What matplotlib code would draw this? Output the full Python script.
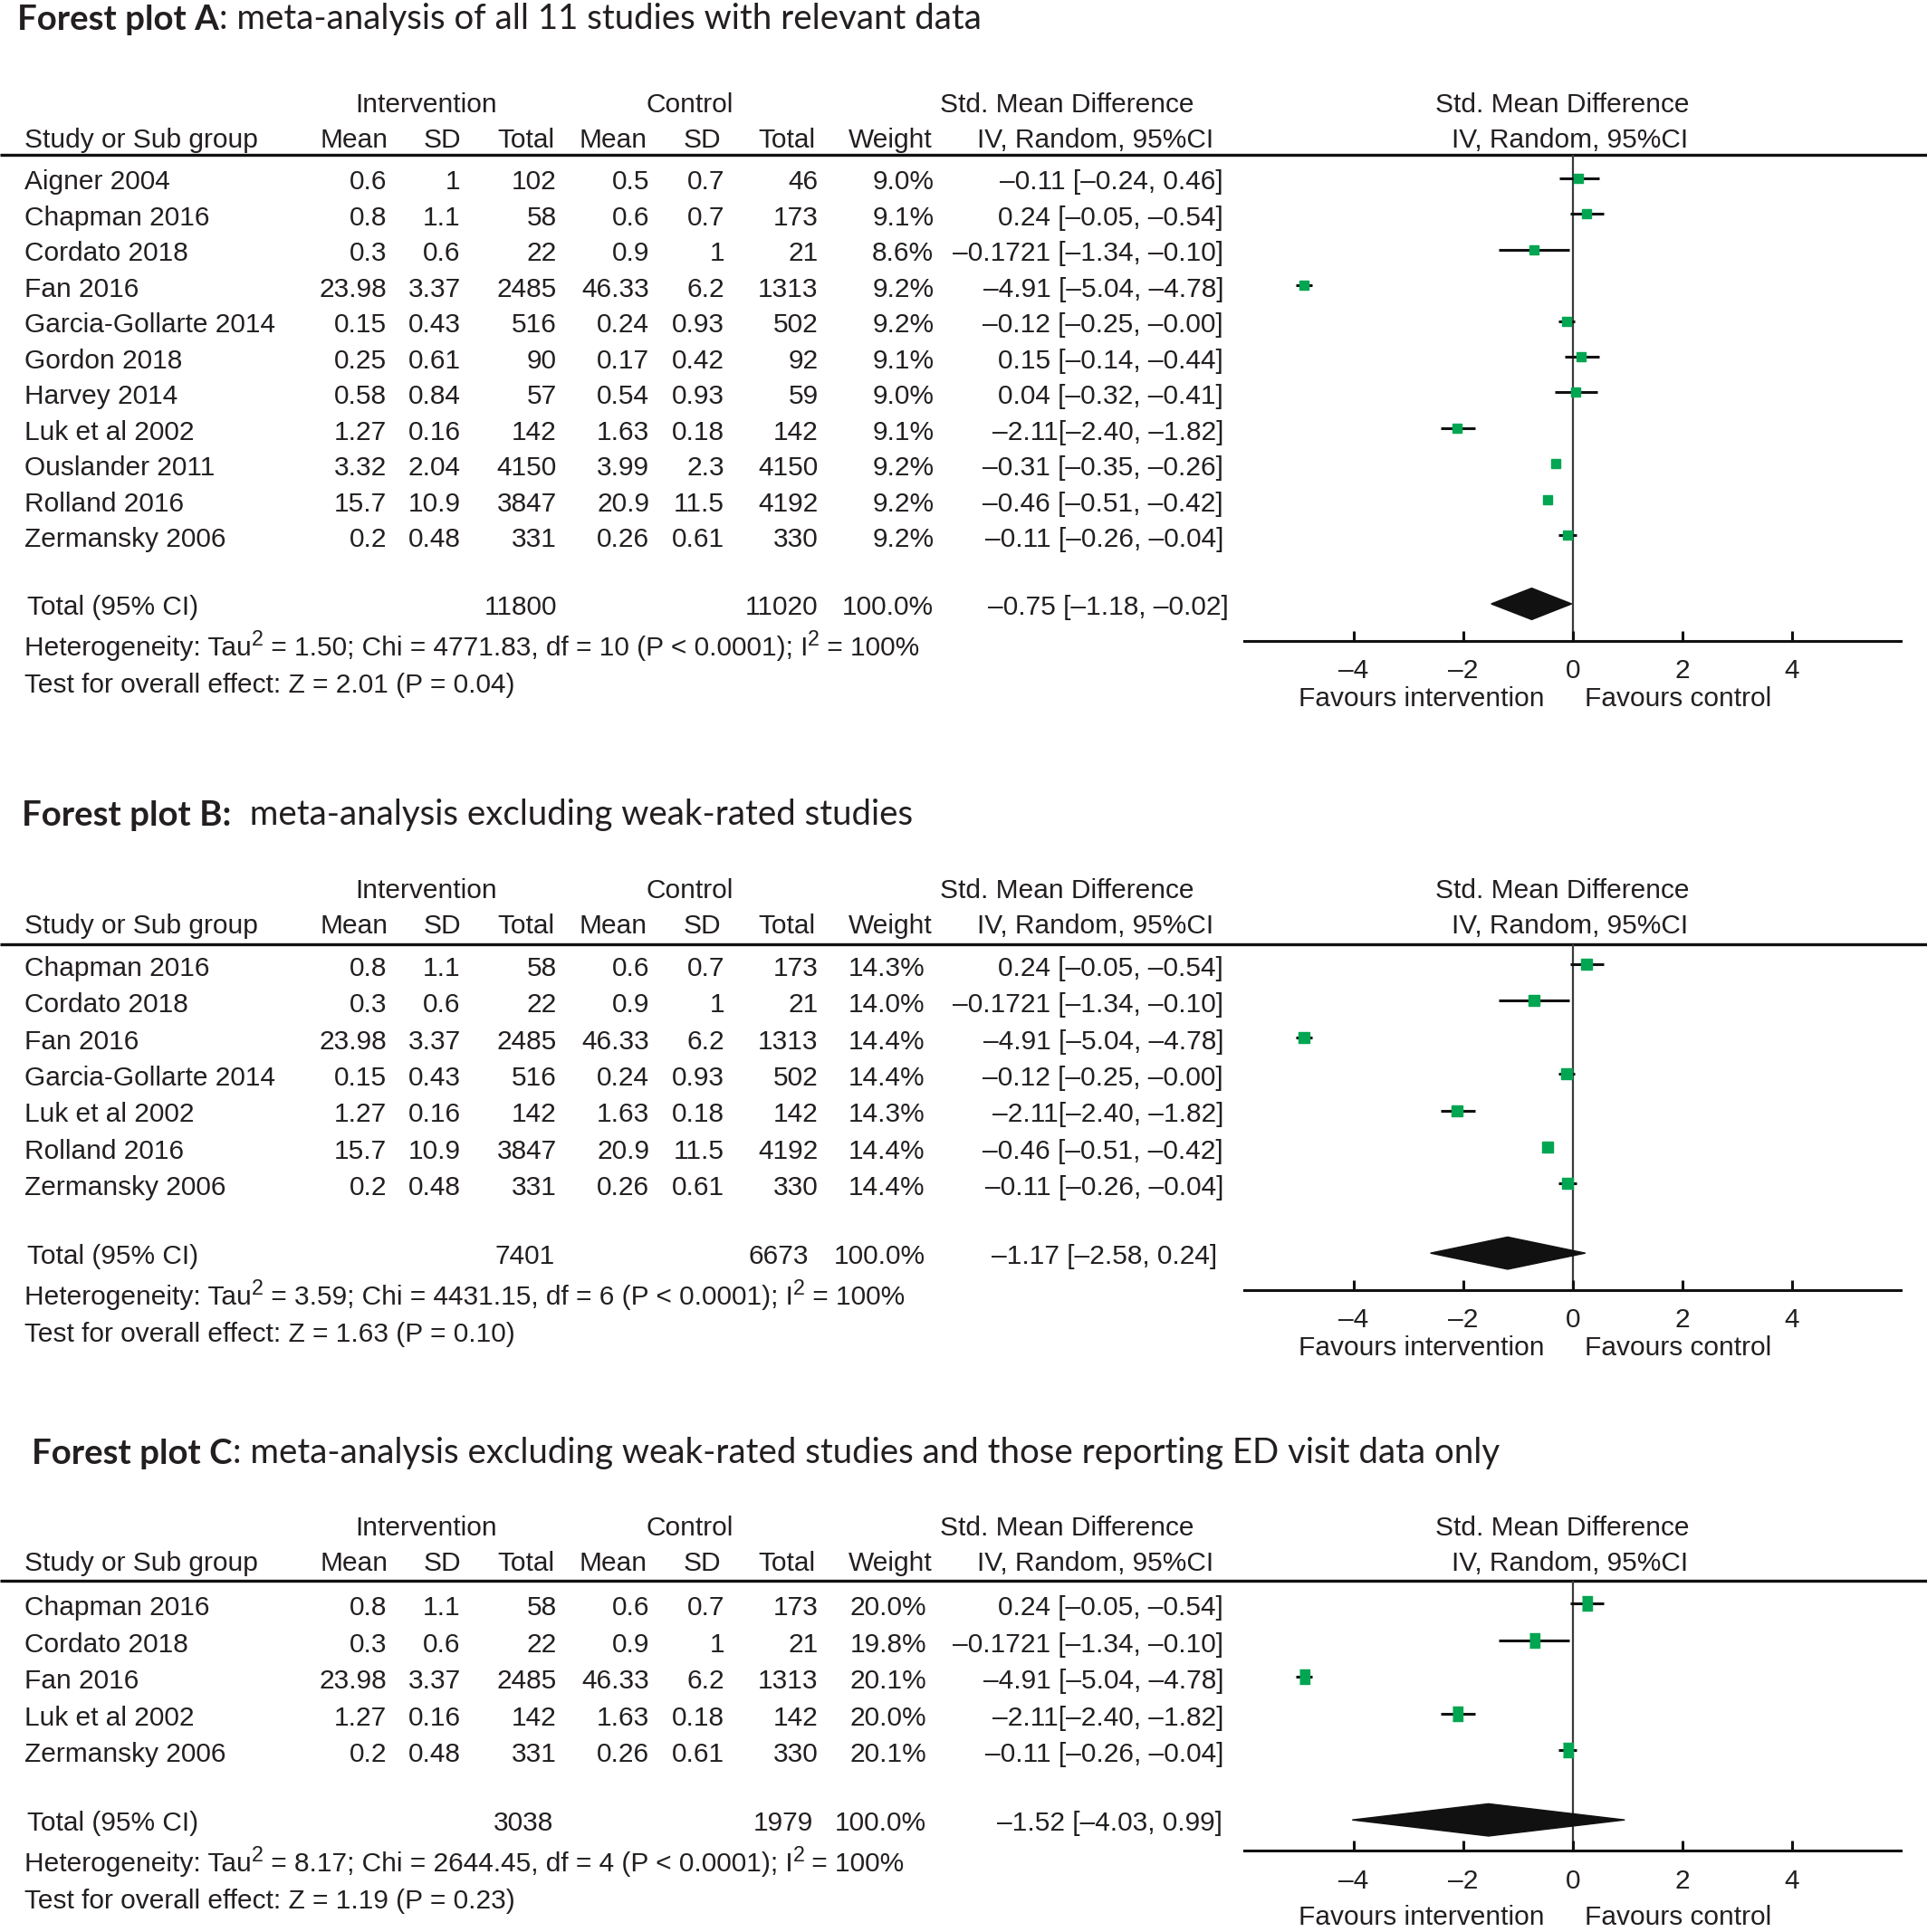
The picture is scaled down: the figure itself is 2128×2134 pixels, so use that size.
import matplotlib
matplotlib.use('Agg')
import matplotlib.pyplot as plt
from matplotlib.patches import Polygon

plt.rcParams['font.family'] = ['Liberation Sans', 'DejaVu Sans']

# ---------------- data (plot A holds all 11 studies) ----------------
studies = ['Aigner 2004', 'Chapman 2016', 'Cordato 2018', 'Fan 2016', 'Garcia-Gollarte 2014',
           'Gordon 2018', 'Harvey 2014', 'Luk et al 2002', 'Ouslander 2011', 'Rolland 2016',
           'Zermansky 2006']
int_mean = [0.6, 0.8, 0.3, 23.98, 0.15, 0.25, 0.58, 1.27, 3.32, 15.7, 0.2]
int_sd = [1, 1.1, 0.6, 3.37, 0.43, 0.61, 0.84, 0.16, 2.04, 10.9, 0.48]
int_n = [102, 58, 22, 2485, 516, 90, 57, 142, 4150, 3847, 331]
ctl_mean = [0.5, 0.6, 0.9, 46.33, 0.24, 0.17, 0.54, 1.63, 3.99, 20.9, 0.26]
ctl_sd = [0.7, 0.7, 1, 6.2, 0.93, 0.42, 0.93, 0.18, 2.3, 11.5, 0.61]
ctl_n = [46, 173, 21, 1313, 502, 92, 59, 142, 4150, 4192, 330]
smd_text = ['\u20130.11 [\u20130.24, 0.46]', '0.24 [\u20130.05, \u20130.54]',
            '\u20130.1721 [\u20131.34, \u20130.10]', '\u20134.91 [\u20135.04, \u20134.78]',
            '\u20130.12 [\u20130.25, \u20130.00]', '0.15 [\u20130.14, \u20130.44]',
            '0.04 [\u20130.32, \u20130.41]', '\u20132.11[\u20132.40, \u20131.82]',
            '\u20130.31 [\u20130.35, \u20130.26]', '\u20130.46 [\u20130.51, \u20130.42]',
            '\u20130.11 [\u20130.26, \u20130.04]']
# positions of the squares and whiskers as drawn in the forest plots
smd_est = [0.11, 0.25, -0.71, -4.91, -0.11, 0.16, 0.05, -2.11, -0.31, -0.46, -0.10]
smd_lo = [-0.25, -0.05, -1.35, -5.06, -0.26, -0.14, -0.32, -2.41, -0.35, -0.51, -0.27]
smd_hi = [0.49, 0.57, -0.07, -4.76, 0.03, 0.48, 0.45, -1.79, -0.26, -0.42, 0.07]

# which studies each plot keeps, and their weights
idx_a = list(range(11))
idx_b = [1, 2, 3, 4, 7, 9, 10]
idx_c = [1, 2, 3, 7, 10]
weight_a = [9.0, 9.1, 8.6, 9.2, 9.2, 9.1, 9.0, 9.1, 9.2, 9.2, 9.2]
weight_b = [14.3, 14.0, 14.4, 14.4, 14.3, 14.4, 14.4]
weight_c = [20.0, 19.8, 20.1, 20.0, 20.1]

# pooled results
total_int = [11800, 7401, 3038]
total_ctl = [11020, 6673, 1979]
total_text = ['\u20130.75 [\u20131.18, \u20130.02]', '\u20131.17 [\u20132.58, 0.24]',
              '\u20131.52 [\u20134.03, 0.99]']
pooled_est = [-0.75, -1.19, -1.54]
pooled_lo = [-1.49, -2.60, -4.03]
pooled_hi = [-0.02, 0.23, 0.95]
tau2 = ['1.50', '3.59', '8.17']
chi = ['4771.83', '4431.15', '2644.45']
dfs = [10, 6, 4]
z_val = ['2.01', '1.63', '1.19']
p_val = ['0.04', '0.10', '0.23']

titles_bold = ['Forest plot A', 'Forest plot B:', 'Forest plot C']
titles_rest = [': meta-analysis of all 11 studies with relevant data',
               '  meta-analysis excluding weak-rated studies',
               ': meta-analysis excluding weak-rated studies and those reporting ED visit data only']
xticks = [-4, -2, 0, 2, 4]
xtick_labels = ['\u20134', '\u20132', '0', '2', '4']

# ---------------- layout (reference pixel grid 1564 x 1568) ----------------
W, H = 1564.0, 1568.0
FS = 21.5
TXT = '#231f20'
GREEN = '#00a651'

layouts = [
    dict(tx=14, ty=16, h1=85, h2=114, line=126, first=148, step=29.0, total=493,
         het=526, test=556, axis=520, fav=567, wx=758, cix=997, nx=(452, 664),
         ms=7, mk='s'),
    dict(tx=18, ty=662, h1=723, h2=752, line=766, first=786, step=29.7, total=1020,
         het=1053, test=1083, axis=1047, fav=1094, wx=751, cix=988, nx=(450, 656),
         ms=8.5, mk='s'),
    dict(tx=26, ty=1180, h1=1240, h2=1269, line=1283, first=1305, step=29.75, total=1480,
         het=1513, test=1543, axis=1502, fav=1556, wx=752, cix=992, nx=(449, 660),
         ms=11, mk=[(-0.36, -0.5), (0.36, -0.5), (0.36, 0.5), (-0.36, 0.5)]),
]
col_x = [314, 374, 452, 527, 588, 664]

fig = plt.figure(figsize=(21.28, 21.34), dpi=100)
bg = fig.add_axes([0, 0, 1, 1])
bg.set_xlim(0, W)
bg.set_ylim(H, 0)
bg.axis('off')


def fmt(v):
    return f'{v:g}'


def txt(x, y, s, ha='left', **kw):
    return bg.text(x, y, s, ha=ha, va='center', fontsize=FS, color=TXT, **kw)


def with_sups(x, y, parts):
    # parts alternate: normal, superscript, normal, superscript, normal ...
    base = txt(x, y, parts[0])
    prev = base
    for j, s in enumerate(parts[1:]):
        if j % 2 == 0:
            prev = bg.annotate(s, xy=(1, 0.42), xycoords=prev, ha='left', va='bottom',
                               fontsize=FS * 0.78, color=TXT)
        else:
            prev = bg.annotate(s, xy=(1, 0), xycoords=(prev, base), ha='left', va='bottom',
                               fontsize=FS, color=TXT)
            base = prev


for p, (idx, weights, L) in enumerate(zip([idx_a, idx_b, idx_c],
                                          [weight_a, weight_b, weight_c], layouts)):
    # title: bold lead followed by regular text
    t1 = bg.text(L['tx'], L['ty'], titles_bold[p], ha='left', va='center',
                 fontsize=27.6, fontweight='bold', family=['Lato', 'DejaVu Sans'], color=TXT)
    bg.annotate(titles_rest[p], xy=(1, 0), xycoords=t1, ha='left', va='bottom',
                fontsize=27.6, family=['Lato', 'DejaVu Sans'], color=TXT)

    # column headers
    txt(346, L['h1'], 'Intervention', ha='center')
    txt(560, L['h1'], 'Control', ha='center')
    txt(866, L['h1'], 'Std. Mean Difference', ha='center')
    txt(1268, L['h1'], 'Std. Mean Difference', ha='center')
    txt(20, L['h2'], 'Study or Sub group')
    for x, s in zip([315, 374, 450, 525, 585, 662, 757],
                    ['Mean', 'SD', 'Total', 'Mean', 'SD', 'Total', 'Weight']):
        txt(x, L['h2'], s, ha='right')
    txt(985, L['h2'], 'IV, Random, 95%CI', ha='right')
    txt(1274, L['h2'], 'IV, Random, 95%CI', ha='center')
    bg.plot([0, W], [L['line'], L['line']], color='#111111', lw=2.4, solid_capstyle='butt')

    # study rows
    for r, (k, w) in enumerate(zip(idx, weights)):
        y = L['first'] + r * L['step']
        txt(20, y, studies[k])
        vals = [fmt(int_mean[k]), fmt(int_sd[k]), str(int_n[k]),
                fmt(ctl_mean[k]), fmt(ctl_sd[k]), str(ctl_n[k])]
        for x, s in zip(col_x, vals):
            txt(x, y, s, ha='right')
        txt(L['wx'], y, f'{w:.1f}%', ha='right')
        txt(993, y, smd_text[k], ha='right')

    # totals and statistics
    txt(22, L['total'], 'Total (95% CI)')
    txt(L['nx'][0], L['total'], str(total_int[p]), ha='right')
    txt(L['nx'][1], L['total'], str(total_ctl[p]), ha='right')
    txt(L['wx'], L['total'], '100.0%', ha='right')
    txt(L['cix'], L['total'], total_text[p], ha='right')
    with_sups(20, L['het'], ['Heterogeneity: Tau', '2',
                             ' = ' + tau2[p] + '; Chi = ' + chi[p] + ', df = ' + str(dfs[p])
                             + ' (P < 0.0001); I', '2', ' = 100%'])
    txt(20, L['test'], 'Test for overall effect: Z = ' + z_val[p] + ' (P = ' + p_val[p] + ')')

    # forest plot
    x0, x1 = 1010, 1543
    ax = fig.add_axes([x0 / W, 1 - L['axis'] / H, (x1 - x0) / W, (L['axis'] - L['line']) / H])
    ax.patch.set_alpha(0)
    ax.set_xlim(-6, 6)
    ax.set_ylim((L['axis'] - L['first']) / L['step'], (L['line'] - L['first']) / L['step'])
    for s in ['top', 'left', 'right']:
        ax.spines[s].set_visible(False)
    ax.spines['bottom'].set_linewidth(2.2)
    ax.spines['bottom'].set_color('#111111')
    ax.set_yticks([])
    ax.set_xticks(xticks)
    ax.set_xticklabels(xtick_labels, fontsize=FS, color=TXT)
    ax.tick_params(axis='x', direction='in', length=8, width=2.2, color='#111111', pad=14)
    ax.axvline(0, color='#3a3a3a', lw=1.6, zorder=1)

    rows = list(range(len(idx)))
    ymk = [r - 0.12 for r in rows]
    ax.hlines(ymk, [smd_lo[k] for k in idx], [smd_hi[k] for k in idx],
              color='#111111', lw=2.2, zorder=2)
    ax.plot([smd_est[k] for k in idx], ymk, linestyle='none', marker=L['mk'],
            ms=L['ms'], color=GREEN, zorder=3)

    yd = (L['total'] - L['first']) / L['step'] - 0.1
    hh = 0.44
    ax.add_patch(Polygon([(pooled_lo[p], yd), (pooled_est[p], yd - hh),
                          (pooled_hi[p], yd), (pooled_est[p], yd + hh)],
                         closed=True, facecolor='#111111', edgecolor='#111111', zorder=3))

    txt(1154, L['fav'], 'Favours intervention', ha='center')
    txt(1362, L['fav'], 'Favours control', ha='center')

fig.savefig('out.png', dpi=100)
